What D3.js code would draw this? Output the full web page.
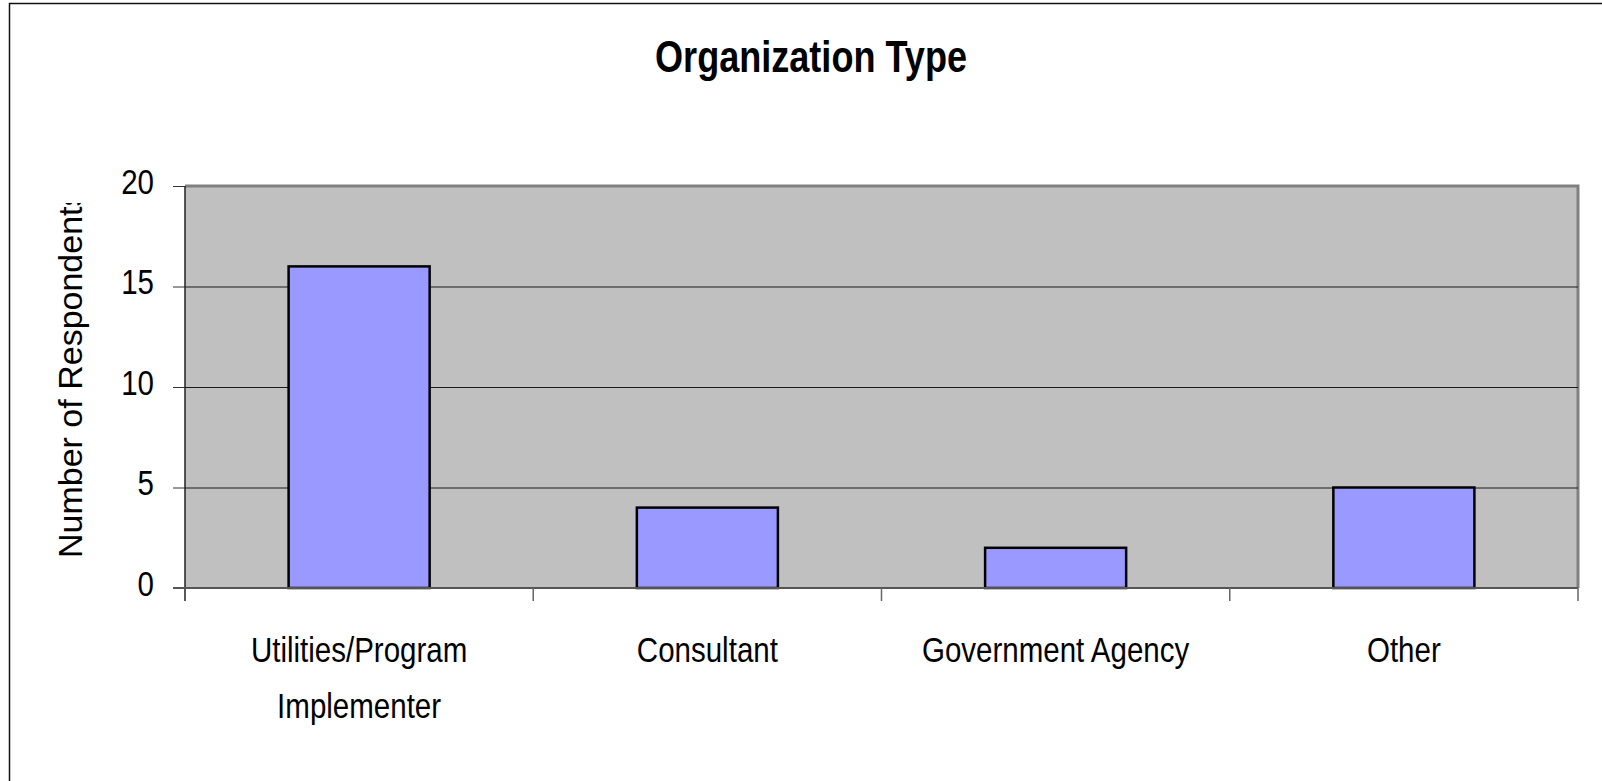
<!DOCTYPE html>
<html>
<head>
<meta charset="utf-8">
<script src="https://cdn.jsdelivr.net/npm/d3@7"></script>
<style>
body { margin: 0; background: #fff; }
</style>
</head>
<body>
<script>
var width = 1602,
	height = 781;

// data
var categories = ["Utilities/Program Implementer", "Consultant", "Government Agency", "Other"];
var labelLines = [["Utilities/Program", "Implementer"], ["Consultant"], ["Government Agency"], ["Other"]];
var counts = [16, 4, 2, 5];
var yTicks = [0, 5, 10, 15, 20];

// no narrow face installed, so squeeze the regular one horizontally
var font = "'Liberation Sans', Arial, sans-serif";
var squeeze = 0.82;

var svg = d3.select("body").append("svg").attr("width", width).attr("height", height)

// chart border
svg.append("rect")
	.attr("x", 9.5).attr("y", 3.5)
	.attr("width", width + 100).attr("height", height + 100)
	.style("fill", "white")
	.style("stroke", "#111")
	.style("stroke-width", 1.5)

var plot = { left: 185, right: 1578, top: 186, bottom: 588 };

var X = d3.scaleBand().domain(categories).range([plot.left, plot.right]).padding(0);
var Y = d3.scaleLinear().domain([0, 20]).range([plot.bottom, plot.top]);

// plot background
svg.append("rect")
	.attr("x", plot.left).attr("y", plot.top)
	.attr("width", plot.right - plot.left).attr("height", plot.bottom - plot.top)
	.style("fill", "#c0c0c0")

// top and right frame
svg.append("path")
	.attr("d", "M" + plot.left + "," + plot.top + "H" + plot.right + "V" + plot.bottom)
	.style("fill", "none")
	.style("stroke", "#808080")
	.style("stroke-width", 3)

// gridlines
svg.selectAll(".grid").data(yTicks.filter(function(d) { return d > 0 && d < 20 })).enter()
	.append("line").attr("class", "grid")
	.attr("x1", plot.left).attr("x2", plot.right)
	.attr("y1", function(d) { return Y(d) + 0.5 })
	.attr("y2", function(d) { return Y(d) + 0.5 })
	.style("stroke", "#1a1a1a")
	.style("stroke-width", 1)

// bars
var barFrac = 0.405;
svg.selectAll(".bar").data(counts).enter().append("rect").attr("class", "bar")
	.attr("x", function(d, i) { return X(categories[i]) + X.bandwidth() * (1 - barFrac) / 2 })
	.attr("y", function(d) { return Y(d) })
	.attr("width", X.bandwidth() * barFrac)
	.attr("height", function(d) { return Y(0) - Y(d) })
	.style("fill", "#9999ff")
	.style("stroke", "black")
	.style("stroke-width", 2.5)

// y axis
var yAxis = svg.append("g")
	.attr("transform", "translate(" + plot.left + ",0)")
	.call(d3.axisLeft(Y).tickValues(yTicks).tickSizeInner(12).tickSizeOuter(0).tickPadding(19))
yAxis.select(".domain").remove();
yAxis.selectAll(".tick line").style("stroke", "#333")
yAxis.selectAll(".tick text")
	.attr("x", function() { return +d3.select(this).attr("x") / squeeze })
	.attr("transform", "scale(" + squeeze + ",1)")
	.attr("dy", "0.2em")
	.style("font-family", font)
	.style("font-size", "36px")
	.style("fill", "black")

svg.append("line")
	.attr("x1", plot.left).attr("x2", plot.left)
	.attr("y1", plot.top).attr("y2", plot.bottom + 13)
	.style("stroke", "#222")
	.style("stroke-width", 1.5)

// x axis line
svg.append("line")
	.attr("x1", plot.left - 12).attr("x2", plot.right)
	.attr("y1", plot.bottom).attr("y2", plot.bottom)
	.style("stroke", "#555")
	.style("stroke-width", 2)

// category separators
var seps = categories.map(function(c) { return X(c) }).concat([X.range()[1]]).slice(1);
svg.selectAll(".sep").data(seps).enter().append("line").attr("class", "sep")
	.attr("x1", function(d) { return d }).attr("x2", function(d) { return d })
	.attr("y1", plot.bottom).attr("y2", plot.bottom + 13)
	.style("stroke", "#666")
	.style("stroke-width", 1.5)

// category labels
svg.selectAll(".xlabel").data(labelLines).enter().append("text").attr("class", "xlabel")
	.attr("text-anchor", "middle")
	.attr("transform", "scale(" + squeeze + ",1)")
	.style("font-family", font)
	.style("font-size", "36px")
	.each(function(lines, i) {
		var cx = X(categories[i]) + X.bandwidth() / 2;
		d3.select(this).selectAll("tspan").data(lines).enter().append("tspan")
			.attr("x", cx / squeeze)
			.attr("y", function(d, j) { return 662 + j * 56 })
			.text(function(d) { return d })
	})

// title
svg.append("text")
	.attr("transform", "translate(811,72) scale(" + squeeze + ",1)")
	.attr("text-anchor", "middle")
	.style("font-family", font)
	.style("font-weight", "bold")
	.style("font-size", "44px")
	.text("Organization Type")

// y axis title, clipped like the original
svg.append("clipPath").attr("id", "yclip")
	.append("rect").attr("x", 0).attr("y", 203).attr("width", 150).attr("height", 500)

svg.append("g")
	.attr("clip-path", "url(#yclip)")
	.append("text")
	.attr("transform", "translate(82,558) rotate(-90)")
	.attr("text-anchor", "start")
	.style("font-family", font)
	.style("font-size", "34px")
	.text("Number of Respondents")
</script>
</body>
</html>
